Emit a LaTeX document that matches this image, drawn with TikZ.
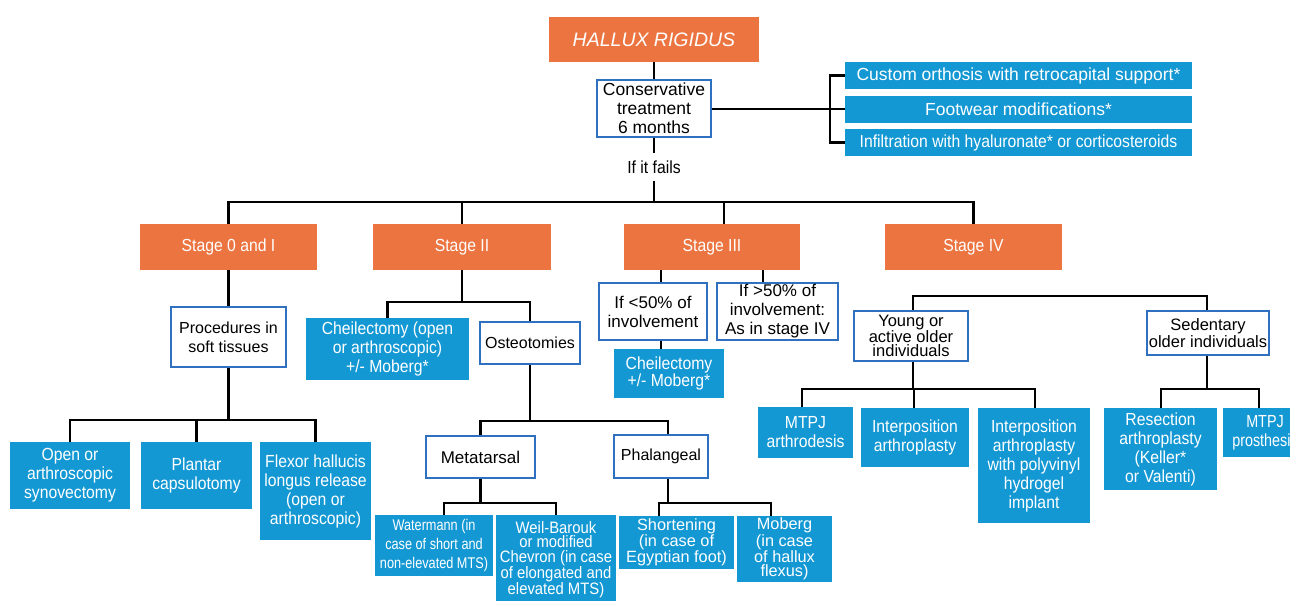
\documentclass[tikz,border=0pt]{standalone}
\usepackage{fontspec}
\setmainfont{Liberation Sans}
\newfontfamily\cond{Liberation Sans}[FakeStretch=0.9]
\newfontfamily\narrowB{Liberation Sans}[FakeStretch=0.82]
\definecolor{hrorange}{RGB}{236,116,64}
\definecolor{hrblue}{RGB}{20,152,212}
\definecolor{hrborder}{RGB}{48,112,192}
\begin{document}
\begin{tikzpicture}[x=1pt,y=-1pt,
 base/.style={inner sep=0pt, align=center, font=\cond\fontsize{17.5}{19}\selectfont},
 tight/.style={font=\cond\fontsize{17.5}{14.2}\selectfont},
 orangebox/.style={base, fill=hrorange, text=white},
 bluebox/.style={base, fill=hrblue, text=white},
 whitebox/.style={base, fill=white, draw=hrborder, line width=2.4pt, text=black, font=\fontsize{17}{19}\selectfont},
 conn/.style={line width=2.9pt, black},
]
\useasboundingbox (0,0) rectangle (1290,600);
\fill[white] (0,0) rectangle (1290,600);
\clip (0,0) rectangle (1290,600);

% top
\node[orangebox, minimum width=210pt, minimum height=45pt, font=\fontsize{19.5}{22}\selectfont\itshape] (hallux) at (654,39.5) {HALLUX RIGIDUS};
\node[whitebox, minimum width=114pt, minimum height=57pt, font=\fontsize{17.5}{19}\selectfont] (cons) at (654,108.5) {Conservative\\treatment\\6 months};
\node[bluebox, minimum width=347pt, minimum height=27pt, font=\fontsize{17.5}{19}\selectfont] (cust) at (1018.5,75.5) {Custom orthosis with retrocapital support*};
\node[bluebox, minimum width=347pt, minimum height=27pt, font=\fontsize{17.5}{19}\selectfont] (foot) at (1018.5,109.5) {Footwear modifications*};
\node[bluebox, minimum width=347pt, minimum height=27pt] (infl) at (1018.5,142.5) {Infiltration with hyaluronate* or corticosteroids};
\node[base] (fails) at (654,167) {If it fails};

% stages
\node[orangebox, minimum width=177pt, minimum height=46pt] (s0) at (228.5,247) {Stage 0 and I};
\node[orangebox, minimum width=178pt, minimum height=46pt] (s2) at (462,247) {Stage II};
\node[orangebox, minimum width=176pt, minimum height=46pt] (s3) at (712,247) {Stage III};
\node[orangebox, minimum width=177pt, minimum height=46pt] (s4) at (973.5,247) {Stage IV};

% level 2
\node[whitebox, minimum width=115pt, minimum height=60pt, font=\fontsize{16}{19}\selectfont] (proc) at (228.5,337) {Procedures in\\soft tissues};
\node[bluebox, minimum width=163pt, minimum height=62pt] (cheil) at (387.5,349) {Cheilectomy (open\\or arthroscopic)\\+/- Moberg*};
\node[whitebox, minimum width=100pt, minimum height=42pt, font=\fontsize{16}{19}\selectfont] (osteo) at (530,343) {Osteotomies};
\node[whitebox, minimum width=108pt, minimum height=57pt] (lt50) at (653,311.5) {If <50\% of\\involvement};
\node[whitebox, minimum width=121pt, minimum height=57pt] (gt50) at (777.5,311.5) {If >50\% of\\involvement:\\As in stage IV};
\node[bluebox, tight, minimum width=110pt, minimum height=49pt] (cheil3) at (669,373.5) {Cheilectomy\\+/- Moberg*};
\node[whitebox, minimum width=114pt, minimum height=50pt, font=\fontsize{16.5}{14.2}\selectfont] (young) at (911,336) {Young or\\active older\\individuals};
\node[whitebox, minimum width=122pt, minimum height=44pt, font=\fontsize{16.5}{13.5}\selectfont] (sed) at (1208,333) {Sedentary\\older individuals};

% level 3
\node[bluebox, minimum width=120pt, minimum height=67pt] (open) at (70,475.5) {Open or\\arthroscopic\\synovectomy};
\node[bluebox, minimum width=111pt, minimum height=67pt] (plantar) at (196.5,475.5) {Plantar\\capsulotomy};
\node[bluebox, minimum width=111pt, minimum height=98pt] (flexor) at (315.5,491) {Flexor hallucis\\longus release\\(open or\\arthroscopic)};
\node[whitebox, minimum width=109pt, minimum height=42pt] (meta) at (480.5,457) {Metatarsal};
\node[whitebox, minimum width=94pt, minimum height=43pt, font=\fontsize{16}{19}\selectfont] (phal) at (661,456.5) {Phalangeal};
\node[bluebox, minimum width=95pt, minimum height=51pt] (mtpja) at (805.5,432.5) {MTPJ\\arthrodesis};
\node[bluebox, minimum width=108pt, minimum height=59pt] (interp) at (915,437.5) {Interposition\\arthroplasty};
\node[bluebox, minimum width=112pt, minimum height=115pt] (interpoly) at (1034,465.5) {Interposition\\arthroplasty\\with polyvinyl\\hydrogel\\implant};
\node[bluebox, minimum width=113pt, minimum height=82pt] (resect) at (1160.5,449) {Resection\\arthroplasty\\(Keller*\\or Valenti)};
\node[bluebox, minimum width=85pt, minimum height=49pt, font=\narrowB\fontsize{17.5}{19}\selectfont] (mtpjp) at (1265,432.5) {MTPJ\\prosthesis};

% level 4
\node[bluebox, minimum width=118pt, minimum height=61pt, font=\narrowB\fontsize{15.5}{19}\selectfont] (water) at (434,545.5) {Watermann (in\\case of short and\\non-elevated MTS)};
\node[bluebox, minimum width=120pt, minimum height=90pt, font=\cond\fontsize{16.5}{14.2}\selectfont] (weil) at (556,560) {Weil-Barouk\\or modified\\Chevron (in case\\of elongated and\\elevated MTS)};
\node[bluebox, minimum width=115pt, minimum height=53pt, font=\fontsize{16.3}{14}\selectfont] (short) at (676.5,542.5) {Shortening\\(in case of\\Egyptian foot)};
\node[bluebox, minimum width=95pt, minimum height=66pt, font=\fontsize{16.3}{14.3}\selectfont] (moberg) at (784.5,549) {Moberg\\(in case\\of hallux\\flexus)};

% connectors top
\draw[conn] (hallux.south) -- (cons.north);
\coordinate (br) at (830,109);
\draw[conn] (cons.east |- br) -- (br) -- (foot.west |- br);
\draw[conn] (cust.west) -- (cust.west -| br) -- (infl.west -| br) -- (infl.west);
\draw[conn] (cons.south) -- ([yshift=7pt]fails.north);
\coordinate (bus) at (654,202);
\draw[conn] ([yshift=-7pt]fails.south) -- (bus);
\draw[conn] (s0.north) -- (s0.north |- bus) -- (s4.north |- bus) -- (s4.north);
\draw[conn] (s2.north) -- (s2.north |- bus);
\draw[conn] ([xshift=12pt]s3.north) -- ([xshift=12pt]s3.north |- bus);

% stage 0 and I
\draw[conn] (s0.south) -- (proc.north);
\draw[conn] (proc.south) -- (proc.south |- 0,420);
\draw[conn] (open.north) -- (open.north |- 0,420) -- (flexor.north |- 0,420) -- (flexor.north);
\draw[conn] (plantar.north) -- (plantar.north |- 0,420);

% stage II
\draw[conn] (s2.south) -- (s2.south |- 0,302);
\draw[conn] (cheil.north) -- (cheil.north |- 0,302) -- (osteo.north |- 0,302) -- (osteo.north);
\draw[conn] (osteo.south) -- (osteo.south |- 0,421);
\draw[conn] (meta.north) -- (meta.north |- 0,421) -- (668,421) -- (668,0 |- phal.north);
\draw[conn] (meta.south) -- (meta.south |- 0,503);
\draw[conn] (444,0 |- water.north) -- (444,503) -- (556,503) -- (556,0 |- weil.north);
\draw[conn] (668,0 |- phal.south) -- (668,503);
\draw[conn] (659,0 |- short.north) -- (659,503) -- (771,503) -- (771,0 |- moberg.north);

% stage III
\draw[conn] (661,0 |- s3.south) -- (661,0 |- lt50.north);
\draw[conn] (763,0 |- s3.south) -- (763,0 |- gt50.north);
\draw[conn] (661,0 |- lt50.south) -- (661,0 |- cheil3.north);

% stage IV
\draw[conn] (913,0 |- young.north) -- (913,296) -- (1207,296) -- (1207,0 |- sed.north);
\draw[conn] (913,0 |- young.south) -- (913,389);
\draw[conn] (802,0 |- mtpja.north) -- (802,389) -- (1035,389) -- (1035,0 |- interpoly.north);
\draw[conn] (914,0 |- interp.north) -- (914,389);
\draw[conn] (1207,0 |- sed.south) -- (1207,389);
\draw[conn] (1161,0 |- resect.north) -- (1161,389) -- (1259,389) -- (1259,0 |- mtpjp.north);
\end{tikzpicture}
\end{document}
